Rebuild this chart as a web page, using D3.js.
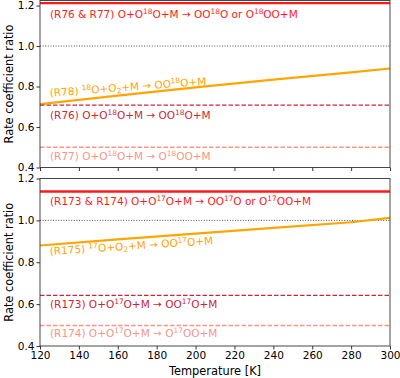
<!DOCTYPE html>
<html>
<head>
<meta charset="utf-8">
<script src="https://cdn.jsdelivr.net/npm/d3@7"></script>
<style>
  body { margin: 0; background: #fff; }
  text { font-family: "DejaVu Sans", sans-serif; }
</style>
</head>
<body>
<div id="chart"></div>
<script>
// temperatures (K) and the ratio curves
const temps = [120, 160, 200, 240, 280, 300];
const xTicks = [120, 140, 160, 180, 200, 220, 240, 260, 280, 300];
const yTicks = [0.4, 0.6, 0.8, 1.0, 1.2];

// top panel (18O)
const r78 = [0.713, 0.755, 0.796, 0.834, 0.870, 0.889];
const r76r77_18 = 1.212;
const r76_18 = 0.708;
const r77_18 = 0.500;

// bottom panel (17O)
const r175 = [0.880, 0.909, 0.937, 0.964, 0.991, 1.012];
const r173r174_17 = 1.138;
const r173_17 = 0.642;
const r174_17 = 0.498;

const colRed = "#ff1a1a", colOrange = "#ffa500", colDark = "#c8283a", colSalmon = "#f99585";

const svg = d3.select("#chart").append("svg")
    .attr("width", 400).attr("height", 378);

const x = d3.scaleLinear().domain([120, 300]).range([40, 390]);

// build a text element with ^{sup} and _{sub} pieces
function richText(g, str, px, py, color, angle) {
    const t = g.append("text")
        .attr("x", px).attr("y", py)
        .attr("fill", color)
        .attr("font-size", 10.5)
        .attr("transform", angle ? "rotate(" + angle + "," + px + "," + py + ")" : null);
    const re = /(\^\{[^}]*\}|_\{[^}]*\})/;
    let shift = 0;
    str.split(re).forEach(part => {
        if (part === "") return;
        let target = 0, txt = part, small = false;
        if (part.startsWith("^{")) { target = -3.8; txt = part.slice(2, -1); small = true; }
        else if (part.startsWith("_{")) { target = 2; txt = part.slice(2, -1); small = true; }
        t.append("tspan")
            .attr("dy", target - shift)
            .attr("font-size", small ? 7.4 : 10.5)
            .text(txt);
        shift = target;
    });
    return t;
}

function panel(top, bottom, yMax, showX, lines, labels, id) {
    const y = d3.scaleLinear().domain([0.4, yMax]).range([bottom, top]);
    const g = svg.append("g");

    g.append("clipPath").attr("id", id)
        .append("rect").attr("x", 40).attr("y", top).attr("width", 350).attr("height", bottom - top);
    const plot = g.append("g").attr("clip-path", "url(#" + id + ")");

    // reference line at 1.0
    plot.append("line")
        .attr("x1", x(120)).attr("x2", x(300))
        .attr("y1", y(1.0)).attr("y2", y(1.0))
        .attr("stroke", "#222").attr("stroke-width", 0.8).attr("stroke-dasharray", "1,1.6");

    lines.forEach(l => {
        const pts = l.values.length ? temps.map((t, i) => [t, l.values[i]]) : [[120, l.value], [300, l.value]];
        plot.append("path")
            .datum(pts)
            .attr("fill", "none")
            .attr("stroke", l.color)
            .attr("stroke-width", l.width)
            .attr("stroke-dasharray", l.dash)
            .attr("d", d3.line().x(d => x(d[0])).y(d => y(d[1])));
    });

    labels.forEach(lb => richText(g, lb.text, 50, lb.y, lb.color, lb.angle));

    const xAxis = d3.axisBottom(x).tickValues(xTicks).tickSize(3.5).tickPadding(2);
    if (!showX) xAxis.tickFormat("");
    const gx = g.append("g").attr("transform", "translate(0," + bottom + ")").call(xAxis);
    const gy = g.append("g").attr("transform", "translate(40,0)")
        .call(d3.axisLeft(y).tickValues(yTicks).tickSize(3.5).tickPadding(2).tickFormat(d3.format(".1f")));
    [gx, gy].forEach(a => {
        a.selectAll("text").attr("font-size", 10.5).attr("fill", "#000").attr("font-family", "DejaVu Sans");
        a.selectAll("line").attr("stroke", "#000").attr("stroke-width", 0.8);
        a.select(".domain").remove();
    });

    // frame
    g.append("rect").attr("x", 40).attr("y", top).attr("width", 350).attr("height", bottom - top)
        .attr("fill", "none").attr("stroke", "#333").attr("stroke-width", 0.9);

    g.append("text")
        .attr("transform", "translate(13," + ((top + bottom) / 2) + ") rotate(-90)")
        .attr("text-anchor", "middle").attr("font-size", 11.4)
        .text("Rate coefficient ratio");
}

panel(0.5, 167.5, 1.225, false, [
    {value: r76r77_18, values: [], color: colRed, width: 2.4, dash: null},
    {values: r78, color: colOrange, width: 2.2, dash: null},
    {value: r76_18, values: [], color: colDark, width: 1.3, dash: "4.5,2"},
    {value: r77_18, values: [], color: colSalmon, width: 1.3, dash: "4.5,2"}
], [
    {text: "(R76 & R77) O+O^{18}O+M → OO^{18}O or O^{18}OO+M", y: 18, color: colRed},
    {text: "(R78) ^{18}O+O_{2}+M → OO^{18}O+M", y: 96.5, color: colOrange, angle: -4.3},
    {text: "(R76) O+O^{18}O+M → OO^{18}O+M", y: 118.5, color: colDark},
    {text: "(R77) O+O^{18}O+M → O^{18}OO+M", y: 160, color: colSalmon}
], "clipTop");

panel(178.5, 346, 1.2, true, [
    {value: r173r174_17, values: [], color: colRed, width: 2.4, dash: null},
    {values: r175, color: colOrange, width: 2.2, dash: null},
    {value: r173_17, values: [], color: colDark, width: 1.3, dash: "4.5,2"},
    {value: r174_17, values: [], color: colSalmon, width: 1.3, dash: "4.5,2"}
], [
    {text: "(R173 & R174) O+O^{17}O+M → OO^{17}O or O^{17}OO+M", y: 204.5, color: colRed},
    {text: "(R175) ^{17}O+O_{2}+M → OO^{17}O+M", y: 255, color: colOrange, angle: -3.8},
    {text: "(R173) O+O^{17}O+M → OO^{17}O+M", y: 308, color: colDark},
    {text: "(R174) O+O^{17}O+M → O^{17}OO+M", y: 336.5, color: colSalmon}
], "clipBot");

svg.append("text")
    .attr("x", 215).attr("y", 375)
    .attr("text-anchor", "middle").attr("font-size", 11.4)
    .text("Temperature [K]");
</script>
</body>
</html>
